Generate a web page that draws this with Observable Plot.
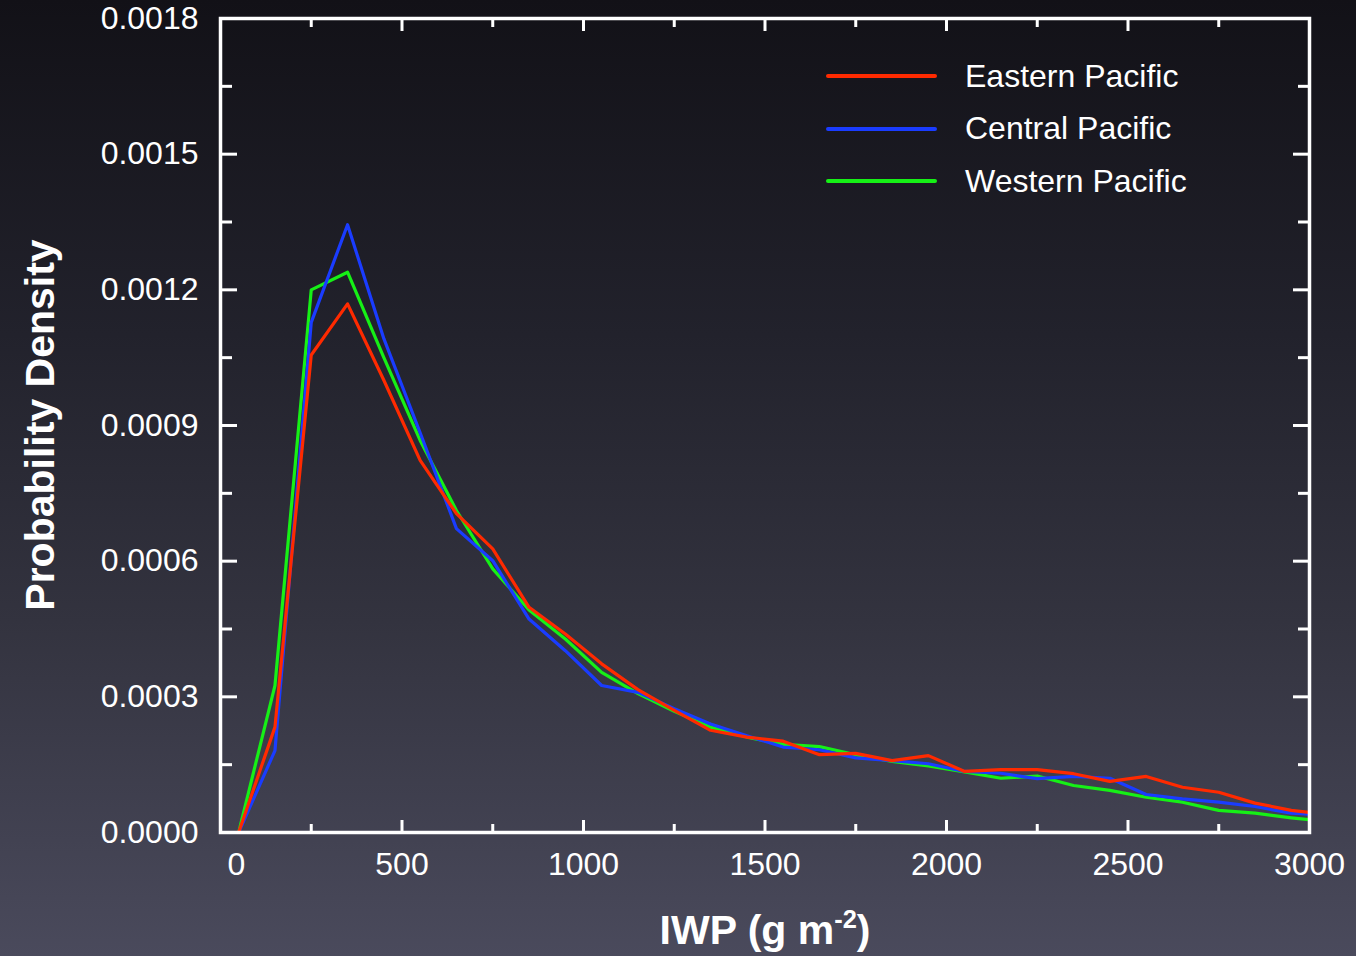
<!DOCTYPE html>
<html>
<head>
<meta charset="utf-8">
<script src="https://cdn.jsdelivr.net/npm/d3@7"></script>
<script src="https://cdn.jsdelivr.net/npm/@observablehq/plot@0.6"></script>
<style>
  html, body { margin: 0; padding: 0; }
  body {
    width: 1356px; height: 956px; overflow: hidden;
    background: linear-gradient(to bottom, #121117 0%, #22222c 35%, #33333f 65%, #4a4a5c 100%);
    font-family: "Liberation Sans", Arial, Helvetica, sans-serif;
    color: #fff;
  }
  #wrap { position: relative; width: 1356px; height: 956px; }
  #wrap svg { position: absolute; left: 0; top: 0; }
  .ylab {
    position: absolute; left: 40px; top: 425px;
    transform: translate(-50%, -50%) rotate(-90deg);
    font-weight: bold; font-size: 41px; white-space: nowrap; line-height: 1;
  }
  .xlab {
    position: absolute; left: 765px; top: 930px;
    transform: translate(-50%, -50%);
    font-weight: bold; font-size: 41px; white-space: nowrap; line-height: 1;
  }
  .xlab sup { font-size: 0.62em; vertical-align: 0.62em; line-height: 0; }
  #legend { position: absolute; left: 826px; top: 50px; }
  .lrow { display: flex; align-items: center; height: 52.5px; }
  .lsw { width: 111px; height: 4px; border-radius: 2px; margin-right: 28px; }
  .ltx { font-size: 32px; white-space: nowrap; }
</style>
</head>
<body>
<div id="wrap">
  <div class="ylab">Probability Density</div>
  <div class="xlab">IWP (g m<sup>-2</sup>)</div>
  <div id="legend"></div>
</div>
<script>
// IWP bin centres (g m^-2)
const iwp = [50,150,250,350,450,550,650,750,850,950,1050,1150,1250,1350,1450,1550,1650,1750,1850,1950,2050,2150,2250,2350,2450,2550,2650,2750,2850,2950,3050];

const eastern = [0, 0.000233, 0.001056, 0.001169, 0.001000, 0.000823, 0.000705, 0.000627, 0.000498, 0.000439, 0.000373, 0.000316, 0.000270, 0.000226, 0.000211, 0.000202, 0.000172, 0.000175, 0.000159, 0.000170, 0.000135, 0.000139, 0.000139, 0.000130, 0.000113, 0.000124, 0.000100, 0.000089, 0.000065, 0.000049, 0.000040];
const central = [0, 0.000181, 0.001128, 0.001344, 0.001092, 0.000884, 0.000672, 0.000601, 0.000472, 0.000402, 0.000325, 0.000310, 0.000274, 0.000240, 0.000214, 0.000189, 0.000183, 0.000165, 0.000159, 0.000152, 0.000135, 0.000131, 0.000119, 0.000124, 0.000120, 0.000084, 0.0000745, 0.000067, 0.0000575, 0.0000427, 0.000038];
const western = [0, 0.000325, 0.001200, 0.001239, 0.001050, 0.000867, 0.000712, 0.000583, 0.000492, 0.000428, 0.000354, 0.000307, 0.000268, 0.000233, 0.000211, 0.000195, 0.000190, 0.000172, 0.000157, 0.000147, 0.000134, 0.000120, 0.000125, 0.000104, 0.000093, 0.000078, 0.000067, 0.000049, 0.0000427, 0.0000325, 0.000024];

const seriesNames = ["Eastern Pacific", "Central Pacific", "Western Pacific"];
const seriesColors = ["#ff2a00", "#1a3cff", "#16f016"];

const xMajor = [0, 500, 1000, 1500, 2000, 2500, 3000];
const xMinor = [250, 750, 1250, 1750, 2250, 2750];
const yMajor = [0, 0.0003, 0.0006, 0.0009, 0.0012, 0.0015, 0.0018];
const yMinor = [0.00015, 0.00045, 0.00075, 0.00105, 0.00135, 0.00165];

const seriesValues = [eastern, central, western];
const rows = (k) => iwp.map((x, i) => ({iwp: x, density: seriesValues[k][i], region: seriesNames[k]}));
const blank = () => "";
const tickStyle = {tickFormat: blank, label: null, stroke: "#fff", strokeWidth: 3};

const chart = Plot.plot({
  width: 1356, height: 956,
  marginLeft: 220, marginRight: 47, marginTop: 18, marginBottom: 124,
  style: {background: "transparent", color: "#fff", fontFamily: "'Liberation Sans', Arial, Helvetica, sans-serif", overflow: "visible"},
  x: {domain: [0, 3000]},
  y: {domain: [0, 0.0018]},
  color: {domain: seriesNames, range: seriesColors},
  marks: [
    Plot.line(rows(2), {x: "iwp", y: "density", stroke: "region", strokeWidth: 3.2, clip: true}),
    Plot.line(rows(1), {x: "iwp", y: "density", stroke: "region", strokeWidth: 3.2, clip: true}),
    Plot.line(rows(0), {x: "iwp", y: "density", stroke: "region", strokeWidth: 3.2, clip: true}),
    // inward ticks
    Plot.axisX(xMajor, {anchor: "bottom", tickSize: -12, ...tickStyle}),
    Plot.axisX(xMinor, {anchor: "bottom", tickSize: -8, ...tickStyle}),
    Plot.axisX(xMajor, {anchor: "top", tickSize: -12, ...tickStyle}),
    Plot.axisX(xMinor, {anchor: "top", tickSize: -8, ...tickStyle}),
    Plot.axisY(yMajor, {anchor: "left", tickSize: -17, ...tickStyle}),
    Plot.axisY(yMinor, {anchor: "left", tickSize: -12, ...tickStyle}),
    Plot.axisY(yMajor, {anchor: "right", tickSize: -17, ...tickStyle}),
    Plot.axisY(yMinor, {anchor: "right", tickSize: -12, ...tickStyle}),
    // tick labels
    Plot.axisX(xMajor.slice(0, 1), {anchor: "bottom", tickSize: 0, tickPadding: 20, fontSize: 32, label: null, fill: "#fff", dx: 16, tickFormat: d3.format("d")}),
    Plot.axisX(xMajor.slice(1), {anchor: "bottom", tickSize: 0, tickPadding: 20, fontSize: 32, label: null, fill: "#fff", tickFormat: d3.format("d")}),
    Plot.axisY(yMajor, {anchor: "left", tickSize: 0, tickPadding: 22, fontSize: 32, label: null, fill: "#fff", tickFormat: d3.format(".4f")}),
    Plot.frame({stroke: "#fff", strokeWidth: 3.5})
  ]
});

const wrap = document.getElementById("wrap");
wrap.insertBefore(chart, wrap.firstChild);

const legend = document.getElementById("legend");
seriesNames.forEach((name, i) => {
  const row = document.createElement("div");
  row.className = "lrow";
  const sw = document.createElement("div");
  sw.className = "lsw";
  sw.style.background = seriesColors[i];
  const tx = document.createElement("div");
  tx.className = "ltx";
  tx.textContent = name;
  row.appendChild(sw); row.appendChild(tx);
  legend.appendChild(row);
});
</script>
</body>
</html>
